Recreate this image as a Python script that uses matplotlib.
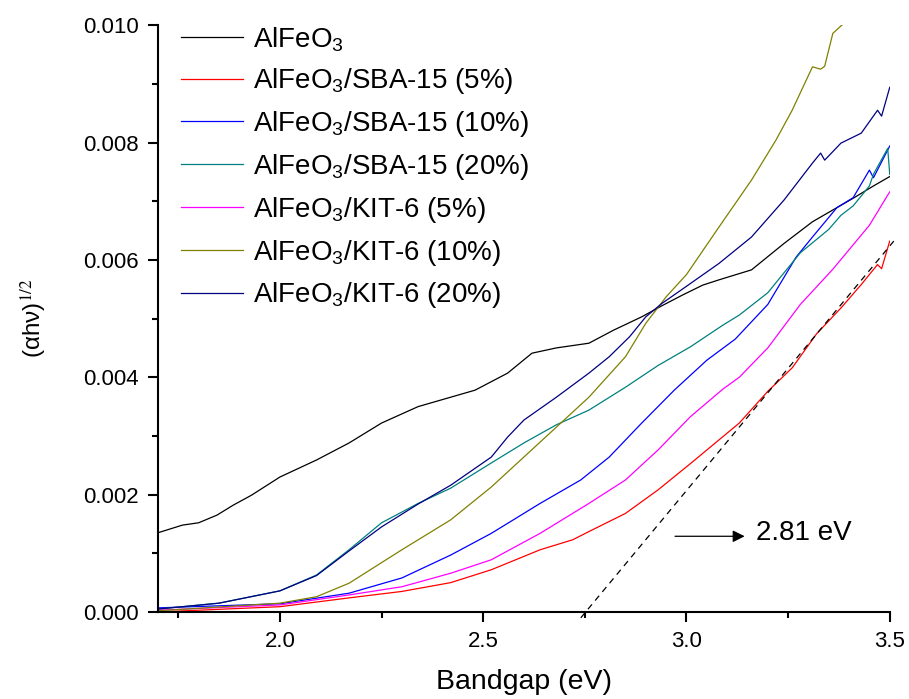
import matplotlib
matplotlib.use("Agg")
import matplotlib.pyplot as plt
from matplotlib.ticker import MultipleLocator

plt.rcParams['font.family'] = ['Liberation Sans', 'DejaVu Sans']
plt.rcParams['mathtext.fontset'] = 'custom'
plt.rcParams['mathtext.rm'] = 'Liberation Sans'
plt.rcParams['mathtext.it'] = 'Liberation Sans:italic'

# values, y in units of 1e-3
x_alfeo3 = [1.70, 1.76, 1.80, 1.845, 1.885, 1.93, 2.00, 2.09, 2.17, 2.25, 2.34, 2.40, 2.48, 2.56, 2.62,
            2.68, 2.76, 2.82, 2.89, 2.94, 2.99, 3.04, 3.08, 3.16, 3.24, 3.31, 3.37, 3.41, 3.46, 3.50]
y_alfeo3 = [1.35, 1.48, 1.52, 1.65, 1.82, 1.99, 2.30, 2.59, 2.88, 3.22, 3.50, 3.62, 3.78, 4.07, 4.41,
            4.50, 4.58, 4.80, 5.03, 5.22, 5.40, 5.57, 5.66, 5.83, 6.28, 6.65, 6.89, 7.05, 7.26, 7.42]

x_sba5 = [1.70, 2.00, 2.17, 2.30, 2.42, 2.52, 2.64, 2.72, 2.76, 2.85, 2.93, 3.01, 3.09, 3.13, 3.20,
          3.26, 3.32, 3.38, 3.43, 3.47, 3.48, 3.50]
y_sba5 = [0.00, 0.09, 0.24, 0.35, 0.50, 0.72, 1.06, 1.23, 1.37, 1.68, 2.08, 2.53, 2.99, 3.22, 3.76,
          4.16, 4.74, 5.18, 5.58, 5.92, 5.85, 6.32]

x_sba10 = [1.70, 2.00, 2.17, 2.30, 2.42, 2.52, 2.64, 2.74, 2.81, 2.89, 2.97, 3.05, 3.12, 3.20, 3.27,
           3.31, 3.37, 3.41, 3.45, 3.46, 3.50]
y_sba10 = [0.07, 0.14, 0.32, 0.58, 0.97, 1.34, 1.85, 2.25, 2.64, 3.22, 3.78, 4.29, 4.65, 5.24, 6.05,
           6.39, 6.89, 7.06, 7.53, 7.40, 7.94]

x_sba20 = [1.70, 1.85, 2.00, 2.09, 2.17, 2.25, 2.34, 2.42, 2.52, 2.60, 2.68, 2.76, 2.85, 2.93, 3.01,
           3.09, 3.13, 3.20, 3.28, 3.35, 3.38, 3.41, 3.45, 3.46, 3.495, 3.50]
y_sba20 = [0.05, 0.15, 0.36, 0.63, 1.06, 1.52, 1.85, 2.11, 2.54, 2.88, 3.19, 3.44, 3.83, 4.20, 4.52,
           4.89, 5.06, 5.44, 6.12, 6.52, 6.76, 6.92, 7.26, 7.46, 7.90, 7.46]

x_kit5 = [1.70, 2.00, 2.17, 2.30, 2.42, 2.52, 2.64, 2.76, 2.85, 2.93, 3.01, 3.09, 3.13, 3.20, 3.28,
          3.36, 3.45, 3.50]
y_kit5 = [0.03, 0.12, 0.29, 0.43, 0.66, 0.89, 1.34, 1.85, 2.25, 2.76, 3.33, 3.80, 4.00, 4.50, 5.24,
          5.84, 6.59, 7.16]

x_kit10 = [1.70, 2.00, 2.09, 2.17, 2.30, 2.42, 2.52, 2.60, 2.68, 2.76, 2.85, 2.90, 2.95, 3.00, 3.08,
           3.16, 3.22, 3.26, 3.31, 3.33, 3.34, 3.36, 3.39]
y_kit10 = [0.02, 0.15, 0.26, 0.49, 1.06, 1.57, 2.13, 2.64, 3.15, 3.66, 4.35, 4.92, 5.37, 5.75, 6.56,
           7.36, 8.04, 8.55, 9.29, 9.25, 9.30, 9.86, 10.05]

x_kit20 = [1.70, 1.85, 2.00, 2.09, 2.17, 2.25, 2.34, 2.42, 2.52, 2.56, 2.60, 2.68, 2.76, 2.81, 2.86,
           2.90, 2.94, 3.00, 3.08, 3.16, 3.24, 3.31, 3.33, 3.34, 3.38, 3.43, 3.47, 3.48, 3.50]
y_kit20 = [0.05, 0.15, 0.36, 0.62, 1.04, 1.45, 1.84, 2.16, 2.64, 2.98, 3.27, 3.66, 4.07, 4.35, 4.69,
           5.03, 5.26, 5.55, 5.94, 6.39, 7.02, 7.65, 7.82, 7.70, 7.99, 8.16, 8.55, 8.45, 8.94]

labels = ['AlFeO$_3$', 'AlFeO$_3$/SBA-15 (5%)', 'AlFeO$_3$/SBA-15 (10%)', 'AlFeO$_3$/SBA-15 (20%)',
          'AlFeO$_3$/KIT-6 (5%)', 'AlFeO$_3$/KIT-6 (10%)', 'AlFeO$_3$/KIT-6 (20%)']
colors = ['#000000', '#FF0000', '#0000FF', '#008080', '#FF00FF', '#808000', '#000080']
series = [(x_alfeo3, y_alfeo3), (x_sba5, y_sba5), (x_sba10, y_sba10), (x_sba20, y_sba20),
          (x_kit5, y_kit5), (x_kit10, y_kit10), (x_kit20, y_kit20)]

# tangent line (Tauc extrapolation)
tan_x = [2.74, 3.51]
tan_y = [-0.10, 6.32]

fig = plt.figure(figsize=(9.09, 6.99), dpi=100)
ax = fig.add_axes([0.1738, 0.1245, 0.805, 0.8395])

for (xs, ys), c, lab in zip(series, colors, labels):
    ax.plot(xs, [v * 1e-3 for v in ys], color=c, lw=0.9, label=lab)

ax.plot(tan_x, [v * 1e-3 for v in tan_y], color='black', lw=0.9, ls=(0, (5, 4)), clip_on=False)

ax.annotate('', xy=(3.15, 0.00129), xytext=(2.965, 0.00129),
            arrowprops=dict(arrowstyle='-|>', color='black', lw=0.9, mutation_scale=18))
ax.text(3.17, 0.00134, '2.81 eV', fontsize=20, va='center', ha='left')

ax.set_xlim(1.7, 3.5)
ax.set_ylim(0, 0.010)
ax.xaxis.set_major_locator(MultipleLocator(0.5))
ax.xaxis.set_minor_locator(MultipleLocator(0.25))
ax.yaxis.set_major_locator(MultipleLocator(0.002))
ax.yaxis.set_minor_locator(MultipleLocator(0.001))
ax.xaxis.set_major_formatter(plt.FormatStrFormatter('%.1f'))
ax.yaxis.set_major_formatter(plt.FormatStrFormatter('%.3f'))

for s in ['top', 'right']:
    ax.spines[s].set_visible(False)
for s in ['left', 'bottom']:
    ax.spines[s].set_linewidth(1.5)
ax.tick_params(which='major', direction='out', length=7, width=1.5, labelsize=16, pad=7)
ax.tick_params(which='minor', direction='out', length=4, width=1.5)

ax.set_xlabel('Bandgap (eV)', fontsize=20.5, labelpad=12)
ax.set_ylabel(r'(αhν)$^{\mathit{1/2}}$', fontsize=17.5, labelpad=24, math_fontfamily='stix')

ax.legend(loc='upper left', bbox_to_anchor=(0.031, 1.0), frameon=False, fontsize=20,
          handlelength=2.23, handletextpad=0.36, labelspacing=0.46, borderpad=0, borderaxespad=0)

fig.savefig('out.png', dpi=100)
